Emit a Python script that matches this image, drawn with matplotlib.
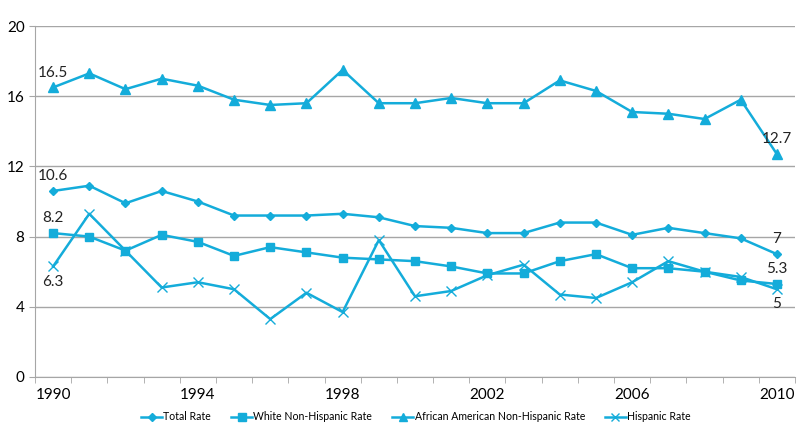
import numpy as np
import matplotlib.pyplot as plt

#------------------------------------------------- DATA -------------------------------------------------#

years = list(range(1990, 2011))

total_rate = [10.6, 10.9, 9.9, 10.6, 10.0, 9.2, 9.2, 9.2, 9.3, 9.1, 8.6,
              8.5, 8.2, 8.2, 8.8, 8.8, 8.1, 8.5, 8.2, 7.9, 7.0]
white_rate = [8.2, 8.0, 7.2, 8.1, 7.7, 6.9, 7.4, 7.1, 6.8, 6.7, 6.6,
              6.3, 5.9, 5.9, 6.6, 7.0, 6.2, 6.2, 6.0, 5.5, 5.3]
black_rate = [16.5, 17.3, 16.4, 17.0, 16.6, 15.8, 15.5, 15.6, 17.5, 15.6, 15.6,
              15.9, 15.6, 15.6, 16.9, 16.3, 15.1, 15.0, 14.7, 15.8, 12.7]
hispanic_rate = [6.3, 9.3, 7.2, 5.1, 5.4, 5.0, 3.3, 4.8, 3.7, 7.8, 4.6,
                 4.9, 5.8, 6.4, 4.7, 4.5, 5.4, 6.6, 6.0, 5.7, 5.0]

labels = ["Total Rate", "White Non-Hispanic Rate",
          "African American Non-Hispanic Rate", "Hispanic Rate"]

#------------------------------------------------- PLOT -------------------------------------------------#

plt.rcParams['font.family'] = ['Lato', 'DejaVu Sans']
blue = "#14ACDA"
grid_col = "#a6a6a6"

fig = plt.figure(figsize=(8.06, 4.46), dpi=100)
ax = fig.add_axes([35/806, 69/446, 760/806, 351/446])

x = np.arange(len(years))
ax.plot(x, total_rate, "-D", color=blue, lw=1.8, ms=4.5, label=labels[0])
ax.plot(x, white_rate, "-s", color=blue, lw=1.8, ms=6, label=labels[1])
ax.plot(x, black_rate, "-^", color=blue, lw=1.8, ms=6.5, label=labels[2])
ax.plot(x, hispanic_rate, "-x", color=blue, lw=1.8, ms=6.5, mew=1.0, label=labels[3])

# end-point annotations
txt = dict(fontsize=11, color="#222222")
ax.text(x[0], black_rate[0] + 0.45, f"{black_rate[0]}", ha="center", va="bottom", **txt)
ax.text(x[0], total_rate[0] + 0.45, f"{total_rate[0]}", ha="center", va="bottom", **txt)
ax.text(x[0], white_rate[0] + 0.45, f"{white_rate[0]}", ha="center", va="bottom", **txt)
ax.text(x[0], hispanic_rate[0] - 0.5, f"{hispanic_rate[0]}", ha="center", va="top", **txt)
ax.text(x[-1], black_rate[-1] + 0.45, f"{black_rate[-1]}", ha="center", va="bottom", **txt)
ax.text(x[-1], total_rate[-1] + 0.45, "7", ha="center", va="bottom", **txt)
ax.text(x[-1], white_rate[-1] + 0.45, f"{white_rate[-1]}", ha="center", va="bottom", **txt)
ax.text(x[-1], hispanic_rate[-1] - 0.45, "5", ha="center", va="top", **txt)

ax.set_xlim(-0.5, len(years) - 0.5)
ax.set_ylim(0, 20)
ax.set_yticks([0, 4, 8, 12, 16, 20])
ax.set_xticks(x[::4])
ax.set_xticklabels([str(y) for y in years[::4]])
ax.set_xticks(np.arange(-0.5, len(years)), minor=True)
ax.tick_params(axis="x", which="major", length=0, pad=8, labelsize=11)
ax.tick_params(axis="x", which="minor", length=4, color=grid_col)
ax.tick_params(axis="y", length=4, color=grid_col, labelsize=11)

ax.grid(axis="y", color=grid_col, lw=1)
ax.set_axisbelow(True)
for s in ["top", "right"]:
    ax.spines[s].set_visible(False)
ax.spines["left"].set_color(grid_col)
ax.spines["bottom"].set_color(grid_col)

fig.legend(loc="center", bbox_to_anchor=(416/806, 29/446), ncol=4, frameon=False,
           fontsize=7.6, handlelength=2.0, columnspacing=1.9, handletextpad=0.1,
           markerscale=0.85)

plt.savefig("out.png", dpi=100)
